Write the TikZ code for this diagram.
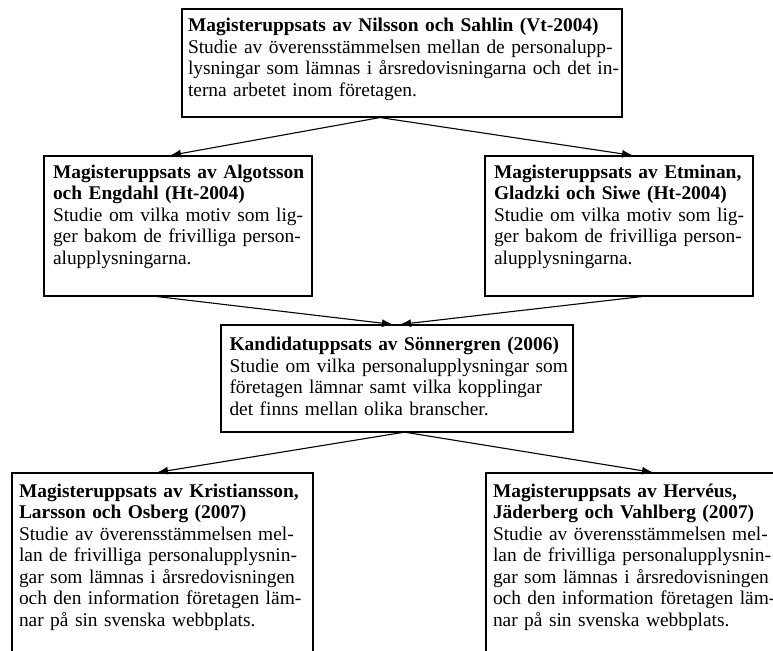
\documentclass[tikz,border=0pt]{standalone}
\usepackage{fontspec}
\setmainfont{Liberation Serif}
\usetikzlibrary{arrows.meta}
\providecommand{\jl}[1]{\makebox[\hsize][s]{#1}}
\tikzstyle{study} = [draw, rectangle, align=left, inner ysep=0pt, line width=1.1pt]

\begin{document}
\begin{tikzpicture}[x=1pt, y=1pt, line width=1.1pt, >={Latex[length=11pt, width=8pt]}]
    \tikzset{font={\fontsize{19.4pt}{21.5pt}\selectfont}}
    \useasboundingbox (0,0) rectangle (773,-650);
    \clip (0,0) rectangle (773,-650);
    \node [study, text width=428pt, inner xsep=6pt, text height=23pt, text depth=85pt] (nilsson) at (402,-63) {\jl{\textbf{Magisteruppsats av Nilsson och Sahlin (Vt-2004)}}\\ \jl{Studie av överensstämmelsen mellan de personalupp-}\\ \jl{lysningar som lämnas i årsredovisningarna och det in-}\\ terna arbetet inom företagen.};
    \node [study, text width=250pt, inner xsep=9pt, text height=22pt, text depth=118pt, below of=nilsson, node distance=163pt, xshift=-224pt] (algotsson) {\jl{\textbf{Magisteruppsats av Algotsson}}\\ \textbf{och Engdahl (Ht-2004)}\\ \jl{Studie om vilka motiv som lig-}\\ \jl{ger bakom de frivilliga person-}\\ alupplysningarna.};
    \node [study, text width=250pt, inner xsep=9pt, text height=22pt, text depth=118pt, right of=algotsson, node distance=441pt] (etminan) {\jl{\textbf{Magisteruppsats av Etminan,}}\\ \textbf{Gladzki och Siwe (Ht-2004)}\\ \jl{Studie om vilka motiv som lig-}\\ \jl{ger bakom de frivilliga person-}\\ alupplysningarna.};
      \node [study, text width=335pt, inner xsep=8.5pt, text height=25.5pt, text depth=81.5pt, below of=algotsson, node distance=152.5pt, xshift=219pt] (sonnergren) {\textbf{Kandidatuppsats av Sönnergren (2006)}\\ \jl{Studie om vilka personalupplysningar som}\\ \jl{företagen lämnar samt vilka kopplingar}\\ det finns mellan olika branscher.};
      \node [study, text width=287pt, inner xsep=7pt, text height=24pt, text depth=200pt, below of=sonnergren, node distance=206.5pt, xshift=-234.5pt] (kristiansson) {\jl{\textbf{Magisteruppsats av Kristiansson,}}\\ \textbf{Larsson och Osberg (2007)}\\ \jl{Studie av överensstämmelsen mel-}\\ \jl{lan de frivilliga personalupplysnin-}\\ \jl{gar som lämnas i årsredovisningen}\\ \jl{och den information företagen läm-}\\ nar på sin svenska webbplats.};
        \node [study, text width=287pt, inner xsep=7pt, text height=24pt, text depth=200pt, right of=kristiansson, node distance=474pt] (herveus) {\textbf{Magisteruppsats av Hervéus,}\\ \textbf{Jäderberg och Vahlberg (2007)}\\ \jl{Studie av överensstämmelsen mel-}\\ \jl{lan de frivilliga personalupplysnin-}\\ \jl{gar som lämnas i årsredovisningen}\\ \jl{och den information företagen läm-}\\ nar på sin svenska webbplats.};
    \draw [->] ([xshift=-22pt]nilsson.south) -- ([xshift=-8pt]algotsson.north);
    \draw [->] ([xshift=-22pt]nilsson.south) -- ([xshift=14pt]etminan.north);
      \draw [->] ([xshift=-21pt]algotsson.south) -- ([xshift=-4pt]sonnergren.north);
      \draw [->] ([xshift=23pt]etminan.south) -- ([xshift=3pt]sonnergren.north);
    \draw [->] ([xshift=5pt]sonnergren.south) -- ([xshift=-5.5pt]kristiansson.north);
    \draw [->] ([xshift=10pt]sonnergren.south) -- ([xshift=16.5pt]herveus.north);
\end{tikzpicture}
\end{document}
